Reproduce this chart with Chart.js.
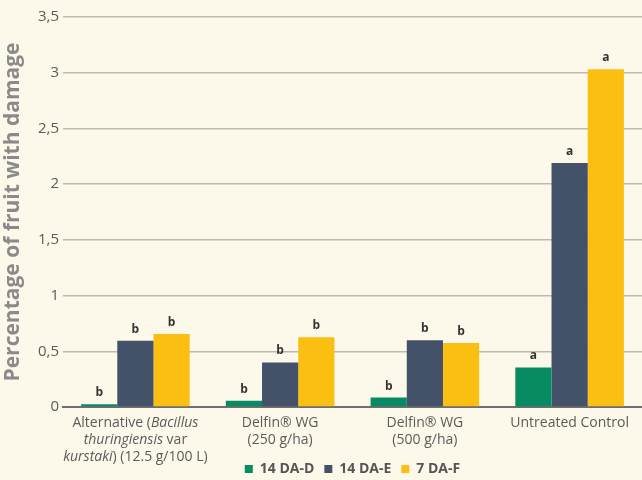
<!DOCTYPE html>
<html>
<head>
<meta charset="utf-8">
<script src="https://cdn.jsdelivr.net/npm/chart.js@4.4.1/dist/chart.umd.min.js"></script>
<style>
  html, body { margin: 0; padding: 0; background: #fcf8ea; }
  #wrap { width: 642px; height: 480px; position: relative; }
</style>
</head>
<body>
<div id="wrap"><canvas id="c"></canvas></div>
<script>
// Categories (lines; *text* = italic)
const categories = [
  ["Alternative (*Bacillus*", "*thuringiensis* var", "*kurstaki*) (12.5 g/100 L)"],
  ["Delfin® WG", "(250 g/ha)"],
  ["Delfin® WG", "(500 g/ha)"],
  ["Untreated Control"]
];
const seriesNames = ["14 DA-D", "14 DA-E", "7 DA-F"];
const valuesD = [0.025, 0.055, 0.085, 0.355];
const valuesE = [0.595, 0.40, 0.60, 2.19];
const valuesF = [0.655, 0.625, 0.575, 3.03];
const lettersD = ["b", "b", "b", "a"];
const lettersE = ["b", "b", "b", "a"];
const lettersF = ["b", "b", "b", "a"];
const yTicks = [0, 0.5, 1, 1.5, 2, 2.5, 3, 3.5];
const yTitle = "Percentage of fruit with damage";

const colors = ["#088a63", "#435268", "#fbbf12"];
const FONT = "'Open Sans', 'Noto Sans', sans-serif";

const plainLabels = categories.map(lines => lines.map(l => l.replace(/\*/g, "")).join(" "));
const letters = [lettersD, lettersE, lettersF];

const bgPlugin = {
  id: "bg",
  beforeDraw(chart) {
    const ctx = chart.ctx;
    ctx.save();
    ctx.fillStyle = "#fcf8ea";
    ctx.fillRect(0, 0, chart.width, chart.height);
    ctx.restore();
  }
};

const lettersPlugin = {
  id: "letters",
  afterDatasetsDraw(chart) {
    const ctx = chart.ctx;
    ctx.save();
    ctx.font = "bold 12px " + FONT;
    ctx.fillStyle = "#333333";
    ctx.textAlign = "center";
    ctx.textBaseline = "alphabetic";
    chart.data.datasets.forEach((ds, di) => {
      const meta = chart.getDatasetMeta(di);
      meta.data.forEach((bar, i) => {
        ctx.fillText(letters[di][i], bar.x, bar.y - 8);
      });
    });
    ctx.restore();
  }
};

const xLabelPlugin = {
  id: "xlabels",
  afterDraw(chart) {
    const ctx = chart.ctx;
    const xs = chart.scales.x;
    const top = chart.chartArea.bottom;
    ctx.save();
    ctx.fillStyle = "#5b5b5b";
    ctx.textBaseline = "alphabetic";
    ctx.textAlign = "left";
    const size = 14;
    categories.forEach((lines, i) => {
      const cx = xs.getPixelForValue(i);
      lines.forEach((line, li) => {
        const parts = line.split("*");
        let w = 0;
        parts.forEach((p, pi) => {
          ctx.font = (pi % 2 === 1 ? "italic " : "") + size + "px " + FONT;
          w += ctx.measureText(p).width;
        });
        let x = cx - w / 2;
        const y = top + 20 + li * 17;
        parts.forEach((p, pi) => {
          ctx.font = (pi % 2 === 1 ? "italic " : "") + size + "px " + FONT;
          ctx.fillText(p, x, y);
          x += ctx.measureText(p).width;
        });
      });
    });
    ctx.restore();
  }
};

new Chart(document.getElementById("c"), {
  type: "bar",
  data: {
    labels: plainLabels,
    datasets: [
      { label: seriesNames[0], data: valuesD, backgroundColor: colors[0] },
      { label: seriesNames[1], data: valuesE, backgroundColor: colors[1] },
      { label: seriesNames[2], data: valuesF, backgroundColor: colors[2] }
    ]
  },
  options: {
    responsive: true,
    maintainAspectRatio: false,
    animation: false,
    layout: { padding: { top: 17, right: 0, left: 0, bottom: -6 } },
    datasets: { bar: { categoryPercentage: 0.75, barPercentage: 1.0 } },
    plugins: {
      tooltip: { enabled: false },
      legend: {
        position: "bottom",
        fullSize: false,
        labels: {
          boxWidth: 8, boxHeight: 8, padding: 10,
          color: "#555555",
          font: { family: FONT, size: 14, weight: "bold" }
        }
      }
    },
    scales: {
      x: {
        grid: { display: false },
        border: { display: true, color: "#6e6e6e", width: 2 },
        ticks: { display: false },
        afterFit(scale) { scale.height = 45; }
      },
      y: {
        min: 0, max: 3.5,
        afterBuildTicks(scale) { scale.ticks = yTicks.map(v => ({ value: v })); },
        grid: {
          drawTicks: false,
          color: ctx => ctx.tick && ctx.tick.value === 0 ? "rgba(0,0,0,0)" : "#bdb9ae",
          lineWidth: 1.5
        },
        border: { display: false },
        ticks: {
          padding: 4,
          color: "#5b5b5b",
          font: { family: FONT, size: 15 },
          callback: v => String(v).replace(".", ",")
        },
        title: {
          display: true, text: yTitle, color: "#8a8a8a",
          font: { family: FONT, size: 21, weight: "bold" },
          padding: { top: 0, bottom: 3 }
        },
        afterFit(scale) { scale.width = 63; }
      }
    }
  },
  plugins: [bgPlugin, lettersPlugin, xLabelPlugin]
});
</script>
</body>
</html>
